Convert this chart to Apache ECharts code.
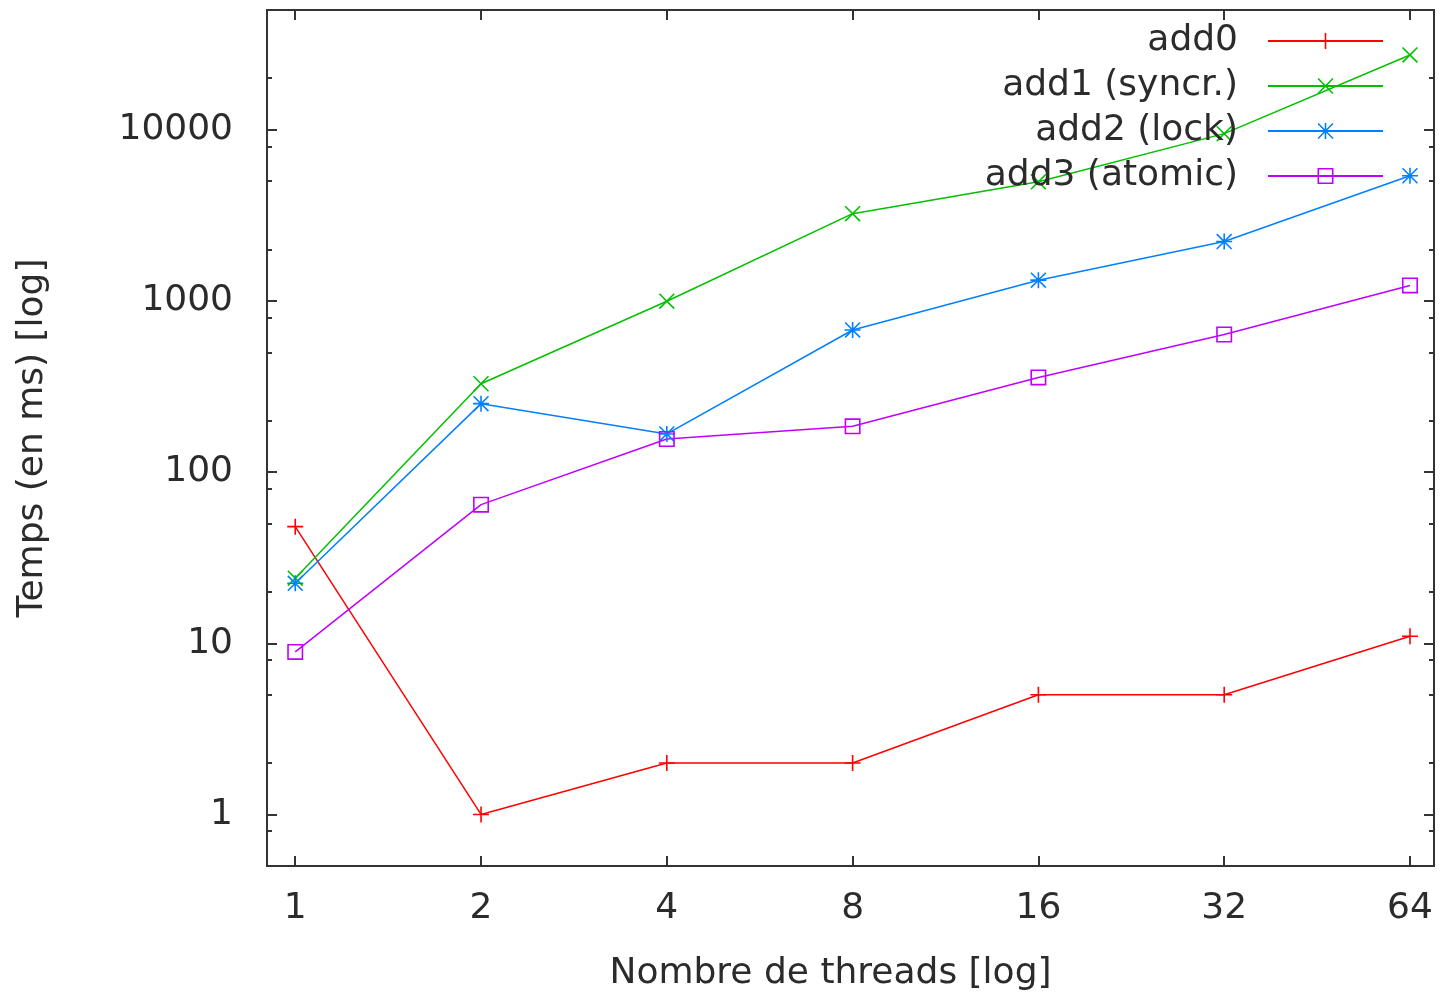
<!DOCTYPE html>
<html>
<head>
<meta charset="utf-8">
<script src="https://cdn.jsdelivr.net/npm/echarts@6/dist/echarts.min.js"></script>
<style>
  html, body { margin: 0; padding: 0; background: #fff; }
  #chart { width: 1454px; height: 1000px; }
</style>
</head>
<body>
<div id="chart"></div>
<script>
// Temps d'exécution selon le nombre de threads (échelles log)
var threads = [1, 2, 4, 8, 16, 32, 64];
var add0 = [48, 1, 2, 2, 5, 5, 11];
var add1 = [24, 328, 995, 3230, 4960, 9480, 27300];
var add2 = [22.4, 251, 167, 676, 1321, 2220, 5380];
var add3 = [8.9, 64.5, 156, 185, 357, 636, 1230];
var seriesNames = ['add0', 'add1 (syncr.)', 'add2 (lock)', 'add3 (atomic)'];
var xTicks = [1, 2, 4, 8, 16, 32, 64];
var yTicks = [1, 10, 100, 1000, 10000];
var yMinorTicks = [0.8, 2, 5, 8, 20, 50, 80, 200, 500, 800, 2000, 5000, 8000, 20000];

(function () {
  var ink = '#2b2b2b';
  var border = '#333333';
  var font = 'DejaVu Sans';
  var fs = 36;
  var colors = ['#ff0000', '#00c000', '#0080ff', '#c000ff'];

  // gnuplot point types: +, x, *, empty square
  var plus = 'path://M-1,-10L1,-10L1,10L-1,10Z M-10,-1L10,-1L10,1L-10,1Z';
  var cross = 'path://M-10,-8.6L-8.6,-10L10,8.6L8.6,10Z M8.6,-10L10,-8.6L-8.6,10L-10,8.6Z';
  var star = 'path://M-1,-10L1,-10L1,10L-1,10Z M-10,-1L10,-1L10,1L-10,1Z ' +
    'M-10,-8.6L-8.6,-10L10,8.6L8.6,10Z M8.6,-10L10,-8.6L-8.6,10L-10,8.6Z';
  var square = 'path://M-10,-10L10,-10L10,10L-10,10Z M-8,-8L-8,8L8,8L8,-8Z';
  var symbols = [plus, cross, star, square];
  var values = [add0, add1, add2, add3];

  var chart = echarts.init(document.getElementById('chart'), null, { renderer: 'canvas' });

  function pairs(ys) {
    return threads.map(function (t, i) { return [t, ys[i]]; });
  }

  function plain(v) { return String(v); }

  function xAxis(pos, labels) {
    return {
      type: 'log', logBase: 2, min: 0.9, max: 70, position: pos,
      axisLine: { show: false },
      splitLine: { show: false },
      axisTick: { inside: true, length: 10, customValues: xTicks, lineStyle: { color: border, width: 2 } },
      axisLabel: labels ? { customValues: xTicks, formatter: plain, margin: 25, color: ink, fontSize: fs, fontFamily: font } : { show: false }
    };
  }

  function yAxis(pos, ticks, len, labels) {
    return {
      type: 'log', logBase: 10, min: 0.5, max: 50000, position: pos,
      axisLine: { show: false },
      splitLine: { show: false },
      minorTick: { show: false },
      axisTick: { inside: true, length: len, customValues: ticks, lineStyle: { color: border, width: 2 } },
      axisLabel: labels ? { customValues: ticks, formatter: plain, margin: 34, color: ink, fontSize: fs, fontFamily: font } : { show: false }
    };
  }

  var xb = xAxis('bottom', true);
  xb.name = 'Nombre de threads [log]';
  xb.nameLocation = 'middle';
  xb.nameGap = 90;
  xb.nameTextStyle = { color: ink, fontSize: fs, fontFamily: font, padding: [0, 40, 0, 0] };

  var yl = yAxis('left', yTicks, 10, true);
  yl.name = 'Temps (en ms) [log]';
  yl.nameLocation = 'middle';
  yl.nameGap = 216;
  yl.nameTextStyle = { color: ink, fontSize: fs, fontFamily: font };

  chart.setOption({
    animation: false,
    backgroundColor: '#fff',
    color: colors,
    grid: {
      left: 267, top: 10, width: 1167, height: 856,
      outerBoundsMode: 'none',
      show: true, borderColor: border, borderWidth: 2, backgroundColor: 'transparent'
    },
    legend: {
      orient: 'vertical', align: 'right',
      right: 65, top: 16,
      itemWidth: 115, itemHeight: 20, itemGap: 5,
      textStyle: { color: ink, fontSize: fs, fontFamily: font, lineHeight: 40, padding: [0, 25, 0, 0] },
      data: seriesNames
    },
    xAxis: [xb, xAxis('top', false)],
    yAxis: [
      yl,
      yAxis('left', yMinorTicks, 5, false),
      yAxis('right', yTicks, 10, false),
      yAxis('right', yMinorTicks, 5, false)
    ],
    series: seriesNames.map(function (name, i) {
      return {
        name: name, type: 'line',
        xAxisIndex: 0, yAxisIndex: 0,
        data: pairs(values[i]),
        symbol: symbols[i], symbolSize: 16,
        lineStyle: { width: 1.5, color: colors[i] },
        itemStyle: { color: colors[i] },
        emphasis: { disabled: true }
      };
    })
  });
  window.addEventListener('resize', function () { chart.resize(); });
})();
</script>
</body>
</html>
